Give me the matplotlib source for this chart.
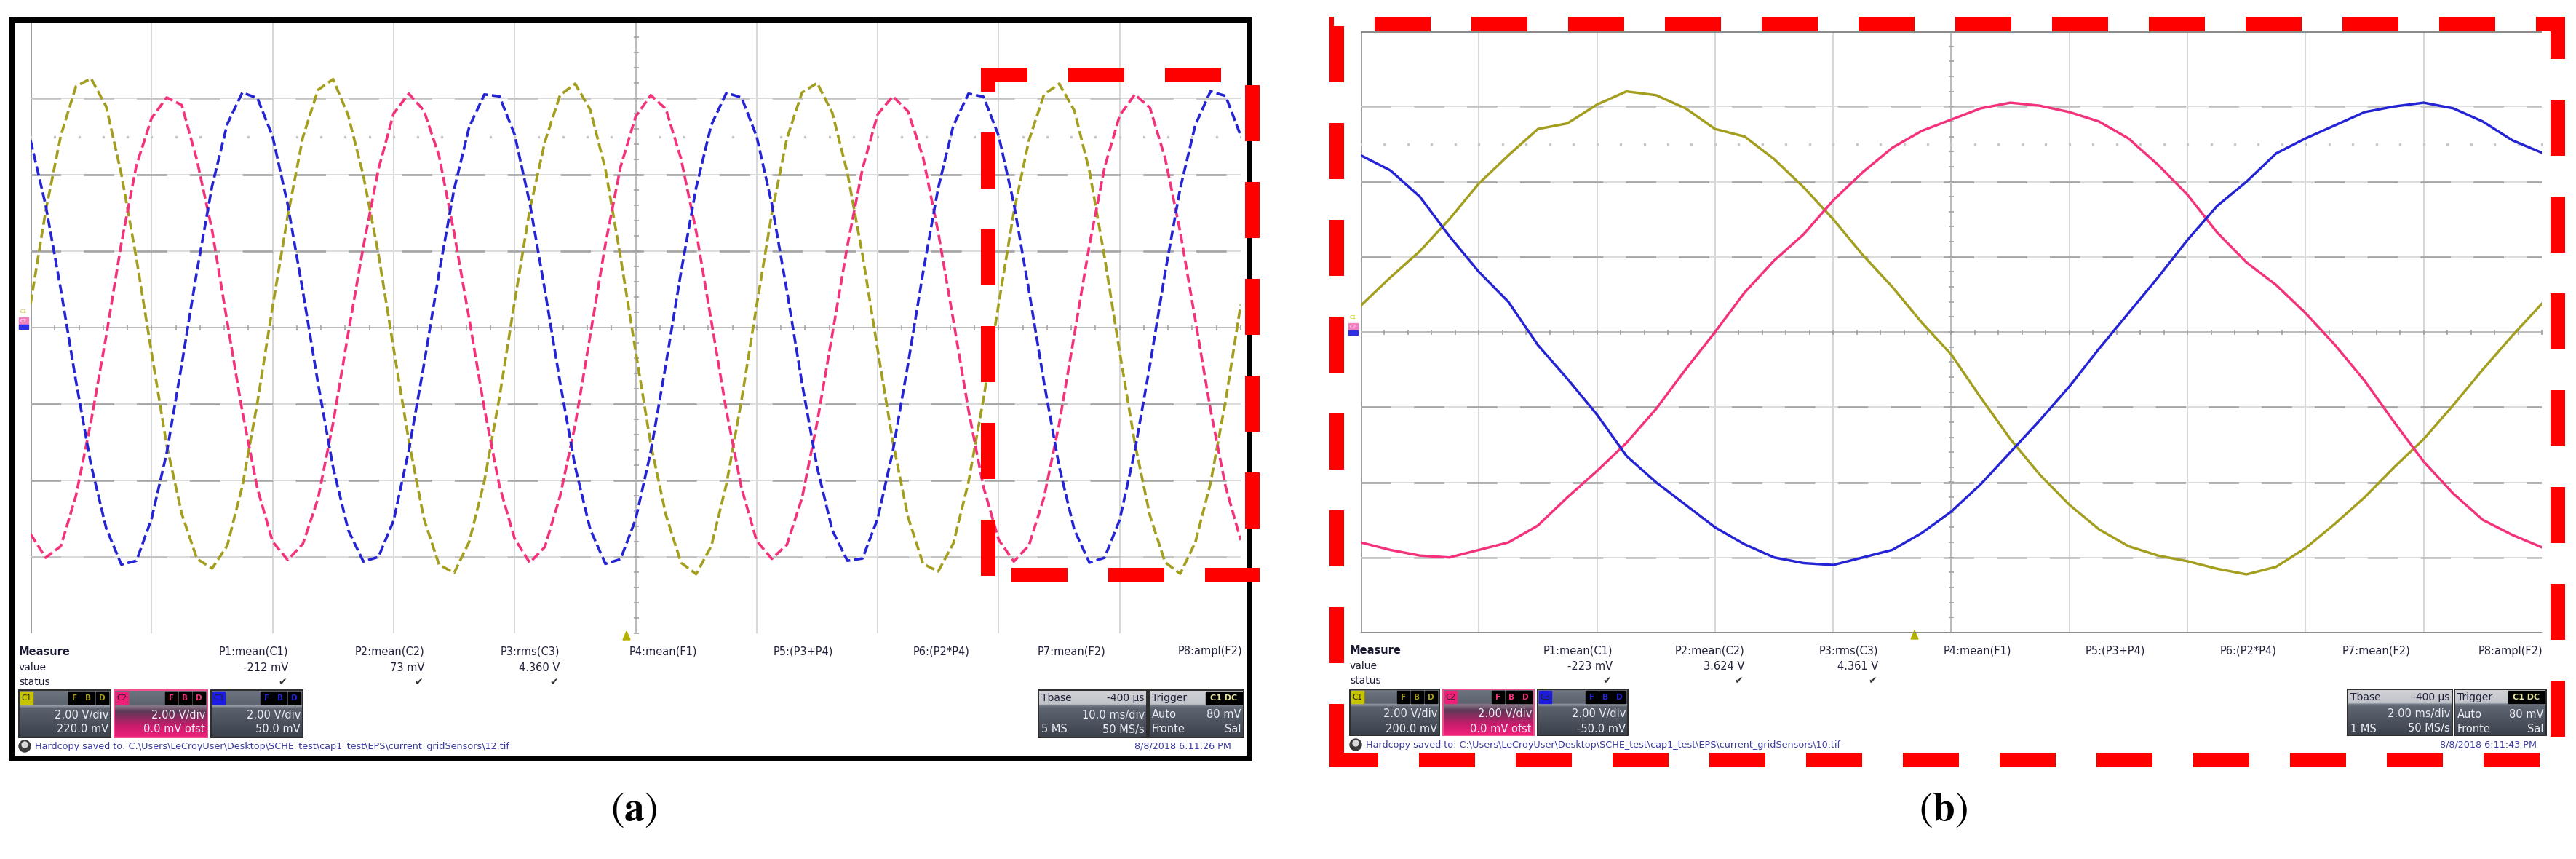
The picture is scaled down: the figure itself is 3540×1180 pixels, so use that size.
import numpy as np
import matplotlib.pyplot as plt
from matplotlib.patches import Rectangle, Polygon, Circle
from matplotlib.colors import to_rgb

plt.rcParams['mathtext.fontset'] = 'stix'
plt.rcParams['font.family'] = ['DejaVu Sans']

# ==== readings from the two scope captures (volts, 2 V/div) ====
step_a = 1.25   # ms between readings, capture (a), 10 ms/div
olive_a = [0.62, 3.05, 5.02, 6.31, 6.52, 5.78, 4.02, 1.80, -0.66, -3.08, -4.88, -6.05, -6.30, -5.71, -4.15, -1.95,
           0.55, 2.92, 4.98, 6.22, 6.50, 5.55, 3.98, 1.92, -0.55, -2.95, -5.00, -6.20, -6.42, -5.60, -4.02, -1.82,
           0.68, 3.08, 4.86, 6.08, 6.38, 5.70, 4.15, 1.85, -0.62, -3.05, -4.90, -6.15, -6.45, -5.72, -4.10, -1.90,
           0.58, 2.98, 4.95, 6.15, 6.40, 5.62, 4.05, 1.90, -0.58, -2.98, -4.95, -6.18, -6.38, -5.65, -4.05, -1.86,
           0.62, 3.02, 4.90, 6.10, 6.38, 5.68, 4.10, 1.84, -0.64, -3.02, -4.92, -6.14, -6.44, -5.62, -4.08, -1.92,
           0.60]
pink_a = [-5.40, -6.02, -5.72, -4.40, -2.45, -0.22, 2.20, 4.25, 5.48, 6.02, 5.82, 4.38, 2.55, 0.15, -2.20, -4.22,
          -5.60, -6.08, -5.66, -4.48, -2.50, -0.15, 2.12, 4.15, 5.60, 6.12, 5.68, 4.50, 2.48, 0.22, -2.12, -4.15,
          -5.52, -6.15, -5.74, -4.42, -2.55, -0.20, 2.18, 4.20, 5.52, 6.08, 5.72, 4.42, 2.52, 0.18, -2.18, -4.20,
          -5.58, -6.05, -5.68, -4.46, -2.48, -0.18, 2.14, 4.16, 5.58, 6.05, 5.66, 4.46, 2.50, 0.20, -2.15, -4.18,
          -5.55, -6.12, -5.70, -4.44, -2.52, -0.19, 2.16, 4.19, 5.55, 6.10, 5.75, 4.44, 2.51, 0.20, -2.14, -4.16,
          -5.56]
blue_a = [4.90, 3.20, 1.00, -1.40, -3.60, -5.25, -6.20, -6.10, -5.00, -3.28, -0.95, 1.48, 3.70, 5.32, 6.15, 6.00,
          5.00, 3.22, 0.95, -1.45, -3.66, -5.30, -6.12, -6.00, -5.05, -3.22, -0.98, 1.42, 3.62, 5.25, 6.10, 6.05,
          5.05, 3.26, 0.98, -1.42, -3.64, -5.28, -6.18, -6.06, -5.02, -3.25, -0.96, 1.45, 3.66, 5.30, 6.14, 6.02,
          5.00, 3.24, 0.96, -1.46, -3.66, -5.30, -6.10, -6.04, -5.00, -3.24, -0.97, 1.44, 3.65, 5.28, 6.12, 6.04,
          5.02, 3.25, 0.97, -1.44, -3.64, -5.29, -6.15, -6.02, -5.03, -3.23, -0.98, 1.43, 3.64, 5.30, 6.18, 6.06,
          5.02]

step_b = 0.5    # ms between readings, capture (b), 2 ms/div
olive_b = [0.70, 1.45, 2.15, 3.00, 3.95, 4.70, 5.40, 5.55, 6.05, 6.40, 6.30, 5.95, 5.40, 5.20, 4.60, 3.85,
           3.00, 2.05, 1.20, 0.25, -0.60, -1.75, -2.85, -3.80, -4.60, -5.25, -5.70, -5.95, -6.10, -6.30,
           -6.45, -6.25, -5.75, -5.10, -4.40, -3.60, -2.85, -1.95, -1.00, -0.10, 0.75]
pink_b = [-5.60, -5.80, -5.95, -6.00, -5.80, -5.60, -5.15, -4.40, -3.70, -2.95, -2.05, -1.00, 0.00, 1.05,
          1.90, 2.60, 3.50, 4.25, 4.90, 5.35, 5.65, 5.95, 6.10, 6.02, 5.85, 5.60, 5.15, 4.45, 3.65, 2.65,
          1.85, 1.25, 0.50, -0.35, -1.30, -2.40, -3.45, -4.30, -5.00, -5.40, -5.73]
blue_b = [4.70, 4.30, 3.60, 2.55, 1.60, 0.80, -0.35, -1.25, -2.20, -3.30, -4.00, -4.60, -5.20, -5.65,
          -6.00, -6.15, -6.20, -6.00, -5.80, -5.35, -4.78, -4.05, -3.20, -2.35, -1.45, -0.45, 0.50, 1.45,
          2.45, 3.35, 4.00, 4.75, 5.15, 5.50, 5.85, 6.00, 6.10, 5.95, 5.60, 5.10, 4.77]

measure_names = ["P1:mean(C1)", "P2:mean(C2)", "P3:rms(C3)", "P4:mean(F1)",
                 "P5:(P3+P4)", "P6:(P2*P4)", "P7:mean(F2)", "P8:ampl(F2)"]
measure_vals_a = ["-212 mV", "73 mV", "4.360 V"]
measure_vals_b = ["-223 mV", "3.624 V", "4.361 V"]
chan_labels = ["C1", "C2", "C3"]
chan_vdiv = ["2.00 V/div", "2.00 V/div", "2.00 V/div"]
chan_ofs_a = ["220.0 mV", "0.0 mV ofst", "50.0 mV"]
chan_ofs_b = ["200.0 mV", "0.0 mV ofst", "-50.0 mV"]
tbase_a = ["-400 µs", "10.0 ms/div", "5 MS", "50 MS/s"]
tbase_b = ["-400 µs", "2.00 ms/div", "1 MS", "50 MS/s"]
trig = ["C1 DC", "Auto", "80 mV", "Fronte", "Sal"]
saved_a = r"Hardcopy saved to: C:\Users\LeCroyUser\Desktop\SCHE_test\cap1_test\EPS\current_gridSensors\12.tif"
saved_b = r"Hardcopy saved to: C:\Users\LeCroyUser\Desktop\SCHE_test\cap1_test\EPS\current_gridSensors\10.tif"
stamp_a = "8/8/2018 6:11:26 PM"
stamp_b = "8/8/2018 6:11:43 PM"

OLIVE, PINK, BLUE = '#a39e1e', '#f4327c', '#2424d4'
trace_cols = [OLIVE, PINK, BLUE]

# ==== figure / helpers ====
W, H, DPI = 3541, 1180, 100
PT = 72.0 / DPI          # points per pixel
fig = plt.figure(figsize=(W / DPI, H / DPI), dpi=DPI)
fig.patch.set_facecolor('white')


def px_box(x0, y0, x1, y1):
    return [x0 / W, 1 - y1 / H, (x1 - x0) / W, (y1 - y0) / H]


def overlay(z):
    ax = fig.add_axes([0, 0, 1, 1], zorder=z)
    ax.set_xlim(0, W)
    ax.set_ylim(H, 0)
    ax.axis('off')
    return ax


bg = overlay(0)
top = overlay(10)


def vgrad(ax, x0, y0, x1, y1, stops, z=2):
    pos = [s[0] for s in stops]
    cols = np.array([to_rgb(s[1]) for s in stops])
    yy = np.linspace(0, 1, 80)
    arr = np.stack([np.interp(yy, pos, cols[:, k]) for k in range(3)], axis=-1)[:, None, :]
    ax.imshow(arr, extent=(x0, x1, y1, y0), aspect='auto', interpolation='bilinear', zorder=z)


def scope_grid(ax, tdiv):
    t_end = 10 * tdiv
    ax.set_xlim(0, t_end)
    ax.set_ylim(-8, 8)
    ax.axis('off')
    for i in range(1, 10):
        ax.axvline(i * tdiv, color='#d4d4d4', lw=1.8 * PT, zorder=1)
    ax.axvline(0, color='#9e9e9e', lw=3 * PT, zorder=1)
    for j in (-6, -4, -2, 2, 4, 6):
        ax.axhline(j, color='#dcdcdc', lw=2 * PT, zorder=1)
        dark = '#a4a4a4' if abs(j) in (2, 4) else '#c0c0c0'
        ax.axhline(j, color=dark, lw=2.6 * PT, ls=(0, (16, 12)), zorder=1)
    ax.axhline(0, color='#bcbcbc', lw=2 * PT, zorder=1)
    ax.axvline(5 * tdiv, color='#bcbcbc', lw=2 * PT, zorder=1)
    tt = np.arange(0, t_end + 1e-9, tdiv / 5)
    vv = np.arange(-8, 8.001, 0.4)
    ax.plot(tt, np.zeros_like(tt), ls='none', marker='|', ms=7 * PT, mew=1.6 * PT, color='#a0a0a0', zorder=1)
    ax.plot(np.full_like(vv, 5 * tdiv), vv, ls='none', marker='_', ms=7 * PT, mew=1.6 * PT, color='#a0a0a0', zorder=1)
    ax.plot(tt, np.full_like(tt, 5.0), ls='none', marker='s', ms=2 * PT, color='#c8c8c8', zorder=1)


def chan_markers(x, y):
    bg.text(x + 6, y - 8, 'C1', fontsize=5, color='#c8c000', ha='center', va='center', zorder=3)
    bg.add_patch(Rectangle((x, y), 13, 10, color='#f080c0', zorder=3))
    bg.text(x + 6.5, y + 5, 'C2', fontsize=5, color='white', ha='center', va='center', zorder=4)
    bg.add_patch(Rectangle((x, y + 10), 13, 6, color='#3030e0', zorder=3))


def chan_box(x0, x1, y0, y1, k, vdiv, ofs):
    grey = [(0, '#6e7682'), (0.30, '#5c636e'), (0.33, '#9aa1aa'), (0.38, '#5b626d'), (1, '#3b414b')]
    pink = [(0, '#6e7682'), (0.30, '#5c636e'), (0.33, '#8a7a8a'), (0.45, '#5c3a56'), (0.75, '#c61c6c'), (1, '#f2207c')]
    vgrad(bg, x0, y0, x1, y1, pink if k == 1 else grey)
    bg.add_patch(Rectangle((x0, y0), x1 - x0, y1 - y0, fill=False,
                           ec='#f05090' if k == 1 else '#2e2e2e', lw=2 * PT, zorder=3))
    tag = ['#c8c400', '#f0207a', '#1c1ce0'][k]
    bg.add_patch(Rectangle((x0 + 2, y0 + 2), 17, 17, color=tag, zorder=3))
    bg.text(x0 + 10.5, y0 + 11, chan_labels[k], fontsize=7.5, color='#222222', ha='center', va='center', zorder=4)
    for m, ch in enumerate('FBD'):
        cx = x1 - 58 + m * 19
        bg.add_patch(Rectangle((cx, y0 + 2), 17, 17, color='black', zorder=3))
        bg.text(cx + 8.5, y0 + 11, ch, fontsize=7.5, color=trace_cols[k], ha='center', va='center',
                fontweight='bold', zorder=4)
    bg.text(x1 - 3, y0 + 34, vdiv, fontsize=10.5, color='#eceef4', ha='right', va='center', zorder=4)
    bg.text(x1 - 3, y0 + 54, ofs, fontsize=10.5, color='#eceef4', ha='right', va='center', zorder=4)


def info_box(x0, x1, y0, y1):
    vgrad(bg, x0, y0, x1, y1, [(0, '#d0d2d6'), (0.30, '#c0c3c8'), (0.31, '#7c8490'),
                               (0.37, '#5e6672'), (1, '#3c424c')])
    bg.add_patch(Rectangle((x0, y0), x1 - x0, y1 - y0, fill=False, ec='#2e2e2e', lw=2 * PT, zorder=3))


def footer(mx, col_right, y_rows, vals, tri_x, boxes, ofs, tb, tbx, trx, foot_y, saved, stamp, stamp_r):
    bg.text(mx, y_rows[0], 'Measure', fontsize=10.5, fontweight='bold', color='#1a1a32', va='center', zorder=3)
    bg.text(mx, y_rows[1], 'value', fontsize=10, color='#1a1a32', va='center', zorder=3)
    bg.text(mx, y_rows[2], 'status', fontsize=10, color='#1a1a32', va='center', zorder=3)
    for i, name in enumerate(measure_names):
        bg.text(col_right[i], y_rows[0], name, fontsize=10.5, color='#22223c', ha='right', va='center', zorder=3)
    for i, v in enumerate(vals):
        bg.text(col_right[i], y_rows[1], v, fontsize=10.5, color='#22223c', ha='right', va='center', zorder=3)
        bg.text(col_right[i] - 8, y_rows[2], '✔', fontsize=10, color='#333333', ha='center', va='center', zorder=3)
    bg.add_patch(Polygon([(tri_x - 5, y_rows[0] - 16), (tri_x + 5, y_rows[0] - 16), (tri_x, y_rows[0] - 28)],
                         color='#b4b000', zorder=3))
    y0, y1 = boxes[0]
    for k, (bx0, bx1) in enumerate(boxes[1:]):
        chan_box(bx0, bx1, y0, y1, k, chan_vdiv[k], ofs[k])
    # timebase box
    info_box(tbx[0], tbx[1], y0, y1)
    bg.text(tbx[0] + 4, y0 + 11, 'Tbase', fontsize=10, color='#20203a', va='center', zorder=4)
    bg.text(tbx[1] - 4, y0 + 11, tb[0], fontsize=10, color='#20203a', ha='right', va='center', zorder=4)
    bg.text(tbx[1] - 3, y0 + 34, tb[1], fontsize=10.5, color='#eceef4', ha='right', va='center', zorder=4)
    bg.text(tbx[0] + 4, y0 + 54, tb[2], fontsize=10.5, color='#eceef4', va='center', zorder=4)
    bg.text(tbx[1] - 3, y0 + 54, tb[3], fontsize=10.5, color='#eceef4', ha='right', va='center', zorder=4)
    # trigger box
    info_box(trx[0], trx[1], y0, y1)
    bg.text(trx[0] + 4, y0 + 11, 'Trigger', fontsize=10, color='#20203a', va='center', zorder=4)
    bg.add_patch(Rectangle((trx[1] - 52, y0 + 2), 50, 17, color='black', zorder=3))
    bg.text(trx[1] - 27, y0 + 11, trig[0], fontsize=8, color='#e8e4a0', ha='center', va='center',
            fontweight='bold', zorder=4)
    bg.text(trx[0] + 4, y0 + 34, trig[1], fontsize=10.5, color='#eceef4', va='center', zorder=4)
    bg.text(trx[1] - 3, y0 + 34, trig[2], fontsize=10.5, color='#eceef4', ha='right', va='center', zorder=4)
    bg.text(trx[0] + 4, y0 + 54, trig[3], fontsize=10.5, color='#eceef4', va='center', zorder=4)
    bg.text(trx[1] - 3, y0 + 54, trig[4], fontsize=10.5, color='#eceef4', ha='right', va='center', zorder=4)
    # footer line
    bg.add_patch(Circle((mx + 8, foot_y), 8, color='#3a3a3a', zorder=3))
    bg.add_patch(Circle((mx + 8, foot_y - 2), 4, color='#d8d8d8', zorder=4))
    bg.text(mx + 22, foot_y, saved, fontsize=9.2, color='#3a3aa0', va='center', zorder=3)
    bg.text(stamp_r, foot_y, stamp, fontsize=9.2, color='#3a3aa0', ha='right', va='center', zorder=3)


# ==== panel (a) ====
ax_a = fig.add_axes(px_box(42, 30, 1705, 870), zorder=5)
scope_grid(ax_a, 10.0)
t_a = np.arange(len(olive_a)) * step_a
for vals, c in zip([olive_a, pink_a, blue_a], trace_cols):
    ax_a.plot(t_a, vals, color=c, lw=3.6 * PT, ls=(0, (3.6, 1.5)), zorder=3)
chan_markers(26, 436)
footer(26, [396, 583, 769, 958, 1145, 1333, 1519, 1707], [895, 917, 937], measure_vals_a, 861,
       [(948, 1013), (26, 152), (157, 285), (290, 416)], chan_ofs_a, tbase_a,
       (1427, 1576), (1579, 1709), 1025, saved_a, stamp_a, 1692)

# ==== panel (b) ====
ax_b = fig.add_axes(px_box(1870, 43, 3493, 869), zorder=5)
scope_grid(ax_b, 2.0)
ax_b.axhline(8, color='#8c8c8c', lw=3 * PT, zorder=2)
ax_b.axhline(-8, color='#8c8c8c', lw=3 * PT, zorder=2)
t_b = np.arange(len(olive_b)) * step_b
for vals, c in zip([olive_b, pink_b, blue_b], trace_cols):
    ax_b.plot(t_b, vals, color=c, lw=3.4 * PT, zorder=3)
chan_markers(1853, 444)
footer(1855, [2216, 2397, 2581, 2764, 2948, 3129, 3312, 3494], [894, 915, 935], measure_vals_b, 2631,
       [(947, 1010), (1855, 1978), (1983, 2108), (2113, 2237)], chan_ofs_b, tbase_b,
       (3226, 3370), (3373, 3499), 1023, saved_b, stamp_b, 3486)

# ==== frames ====
top.add_patch(Rectangle((16, 26.5), 1701.5, 1015, fill=False, ec='black', lw=8 * PT, joinstyle='miter'))

RED_LW = 20


def red_edge(x0, y0, x1, y1, offset_px):
    top.plot([x0, x1], [y0, y1], color='#ff0000', lw=RED_LW * PT, solid_capstyle='butt',
             ls=(offset_px / RED_LW, (77 / RED_LW, 56 / RED_LW)), dash_capstyle='butt')


# zoom box drawn on (a)
red_edge(1348, 103, 1731, 103, 13)
red_edge(1358, 93, 1358, 800, 44)
red_edge(1721, 93, 1721, 800, 109)
red_edge(1348, 790, 1731, 790, 91)
# frame around (b)
red_edge(1827, 33, 3525, 33, 71)
red_edge(1837, 23, 1837, 1053, 120)
red_edge(3515, 23, 3515, 1053, 19)
red_edge(1827, 1043.5, 3525, 1043.5, 10)

top.text(871, 1112, r'$(\mathbf{a})$', fontsize=40, ha='center', va='center', color='black')
top.text(2671, 1112, r'$(\mathbf{b})$', fontsize=40, ha='center', va='center', color='black')

for a in (bg, top):
    a.set_xlim(0, W)
    a.set_ylim(H, 0)

fig.savefig('out.png', dpi=DPI, facecolor='white')
